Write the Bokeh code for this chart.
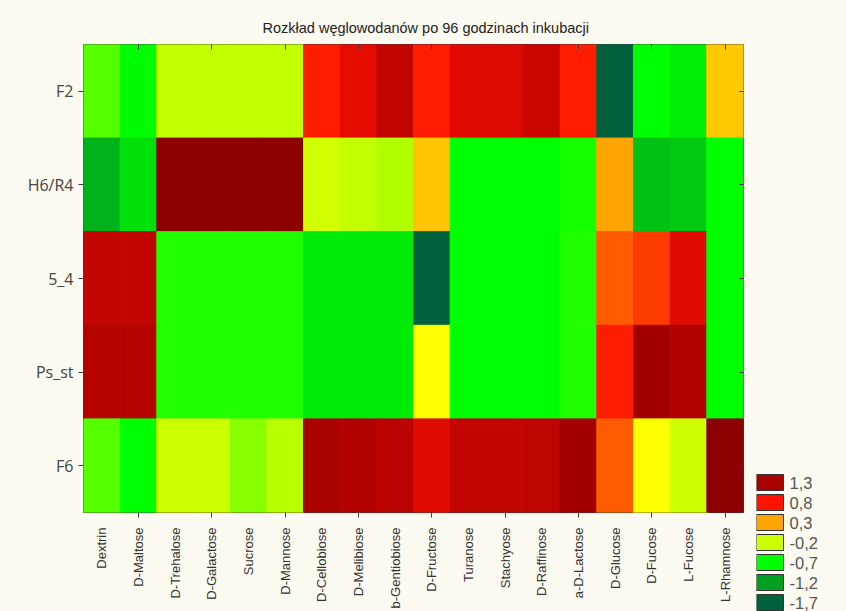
import math
from bokeh.plotting import figure
from bokeh.layouts import row, column
from bokeh.models import (ColumnDataSource, LinearColorMapper, FixedTicker,
                          LinearAxis, Range1d)
from bokeh.core.properties import value
from bokeh.embed import file_html
from bokeh.resources import INLINE

# Carbohydrates (columns) and strains (rows, top to bottom)
sugars = ["Dextrin", "D-Maltose", "D-Trehalose", "D-Galactose", "Sucrose",
          "D-Mannose", "D-Cellobiose", "D-Melibiose", "b-Gentiobiose",
          "D-Fructose", "Turanose", "Stachyose", "D-Raffinose", "a-D-Lactose",
          "D-Glucose", "D-Fucose", "L-Fucose", "L-Rhamnose"]
strains = ["F2", "H6/R4", "5_4", "Ps_st", "F6"]

# Standardised utilisation after 96 h, one list per strain
f2 = [-0.50, -0.72, -0.23, -0.23, -0.23, -0.23, 0.75, 0.95, 1.15, 0.75,
      0.98, 1.00, 1.10, 0.75, -1.70, -0.70, -0.79, 0.20]
h6_r4 = [-1.10, -0.86, 1.50, 1.50, 1.50, 1.50, -0.17, -0.22, -0.26, 0.22,
         -0.70, -0.70, -0.70, -0.65, 0.30, -1.02, -0.98, -0.70]
s5_4 = [1.15, 1.15, -0.62, -0.62, -0.62, -0.62, -0.80, -0.80, -0.80, -1.70,
        -0.70, -0.70, -0.70, -0.62, 0.55, 0.65, 0.98, -0.70]
ps_st = [1.22, 1.22, -0.62, -0.62, -0.62, -0.62, -0.80, -0.80, -0.80, 0.05,
         -0.70, -0.70, -0.70, -0.62, 0.75, 1.35, 1.25, -0.70]
f6 = [-0.50, -0.70, -0.20, -0.20, -0.37, -0.25, 1.30, 1.25, 1.20, 0.98,
      1.15, 1.15, 1.18, 1.35, 0.55, 0.05, -0.20, 1.50]
rows = [f2, h6_r4, s5_4, ps_st, f6]

# Contour levels shown in the key
levels = [1.3, 0.8, 0.3, -0.2, -0.7, -1.2, -1.7]

# Green -> yellow -> orange -> red colour scale
stops = [(-1.7, (0, 96, 60)), (-1.2, (0, 160, 32)), (-0.7, (0, 255, 0)),
         (-0.2, (204, 255, 0)), (0.05, (255, 255, 0)), (0.3, (255, 165, 0)),
         (0.8, (255, 16, 0)), (1.3, (168, 0, 0)), (1.6, (128, 0, 0))]
LOW, HIGH, N = stops[0][0], stops[-1][0], 256


def scale_colour(v):
    for (v0, c0), (v1, c1) in zip(stops[:-1], stops[1:]):
        if v <= v1:
            t = (v - v0) / (v1 - v0)
            return "#%02x%02x%02x" % tuple(round(a + (b - a) * t) for a, b in zip(c0, c1))
    return "#%02x%02x%02x" % stops[-1][1]


palette = [scale_colour(LOW + (HIGH - LOW) * (i + 0.5) / N) for i in range(N)]
mapper = LinearColorMapper(palette=palette, low=LOW, high=HIGH)

n_rows = len(strains)
xs, ys, vals = [], [], []
for r, vals_row in enumerate(rows):
    for c, v in enumerate(vals_row):
        xs.append(c + 0.5)
        ys.append(n_rows - r - 0.5)
        vals.append(v)
cells = ColumnDataSource(dict(x=xs, y=ys, v=vals))

CREAM = "#fdfaf1"
FRAME = "#3c3c3c"
H = 606

p = figure(width=741, height=H, margin=(5, 0, 0, 15),
           x_range=Range1d(0, len(sugars)), y_range=Range1d(0, n_rows),
           output_backend="svg", toolbar_location=None,
           background_fill_color=CREAM, border_fill_color=CREAM,
           min_border_left=68, min_border_right=13,
           min_border_top=39, min_border_bottom=99)
p.grid.visible = False
p.outline_line_color = FRAME
p.outline_line_width = 1

p.title.text = "Rozkład węglowodanów po 96 godzinach inkubacji"
p.title.align = "left"
p.title.offset = 179
p.title.text_font = "Liberation Sans"
p.title.text_font_style = "normal"
p.title.text_font_size = "14.5px"
p.title.text_color = "#222222"
p.title.standoff = 17

p.rect(x="x", y="y", width=1, height=1, source=cells,
       fill_color={"field": "v", "transform": mapper},
       line_color={"field": "v", "transform": mapper}, line_width=1)

col_centres = [i + 0.5 for i in range(len(sugars))]
even_centres = col_centres[1::2]
row_centres = [n_rows - i - 0.5 for i in range(n_rows)]

# bottom axis: every sugar labelled, tick marks on every second column
xa = p.xaxis[0]
xa.ticker = FixedTicker(ticks=col_centres, minor_ticks=even_centres)
xa.major_label_overrides = {c: s for c, s in zip(col_centres, sugars)}
xa.major_label_orientation = math.pi / 2
xa.major_label_text_font = "Liberation Sans"
xa.major_label_text_font_size = "13px"
xa.major_label_text_color = "#333333"
xa.major_label_standoff = 10
xa.major_tick_in = 0
xa.major_tick_out = 0
xa.minor_tick_in = 0
xa.minor_tick_out = 5
xa.minor_tick_line_color = FRAME
xa.axis_line_color = None

ya = p.yaxis[0]
ya.ticker = FixedTicker(ticks=row_centres)
ya.major_label_overrides = {c: s for c, s in zip(row_centres, strains)}
ya.major_label_text_font = "Open Sans"
ya.major_label_text_font_size = "16px"
ya.major_label_text_color = "#444444"
ya.major_label_standoff = 5
ya.major_tick_in = 0
ya.major_tick_out = 5
ya.major_tick_line_color = FRAME
ya.minor_tick_line_color = None
ya.axis_line_color = None

# plain tick marks pointing into the map on the top and right edges
top = LinearAxis(ticker=FixedTicker(ticks=[], minor_ticks=even_centres),
                 axis_line_color=None, major_tick_in=0, major_tick_out=0,
                 minor_tick_in=5, minor_tick_out=0,
                 minor_tick_line_color=FRAME, major_label_standoff=0)
p.add_layout(top, "above")
right = LinearAxis(ticker=FixedTicker(ticks=[], minor_ticks=row_centres),
                   axis_line_color=None, major_tick_in=0, major_tick_out=0,
                   minor_tick_in=4, minor_tick_out=0,
                   minor_tick_line_color=FRAME, major_label_standoff=0)
p.add_layout(right, "right")

# colour key beside the map: one swatch per level, coloured through the same mapper
KW, KH = 77, 139
key_src = ColumnDataSource(dict(
    i=list(range(len(levels))), v=levels,
    label=[("%.1f" % v).replace(".", ",") for v in levels]))
key = figure(width=KW, height=KH, margin=(472, 13, 0, 0),
             x_range=Range1d(0, KW), y_range=Range1d(KH / 20 - 0.5, -0.5),
             output_backend="svg", toolbar_location=None,
             background_fill_color=CREAM, border_fill_color=CREAM,
             min_border=0, outline_line_color=None, title=None)
key.axis.visible = False
key.grid.visible = False
key.rect(x=13.5, y="i", width=27, height=16, width_units="screen",
         height_units="screen", source=key_src,
         fill_color={"field": "v", "transform": mapper},
         line_color="#333333", line_width=1)
key.text(x=33, y="i", text="label", source=key_src,
         text_font=value("Liberation Sans"), text_font_size="16.5px",
         text_color="#555555", text_baseline="middle", text_align="left")

page = row(p, column(key, styles={"background-color": CREAM}, height=611),
           spacing=0, styles={"background-color": CREAM})
open("out.html", "w").write(file_html(page, INLINE))
